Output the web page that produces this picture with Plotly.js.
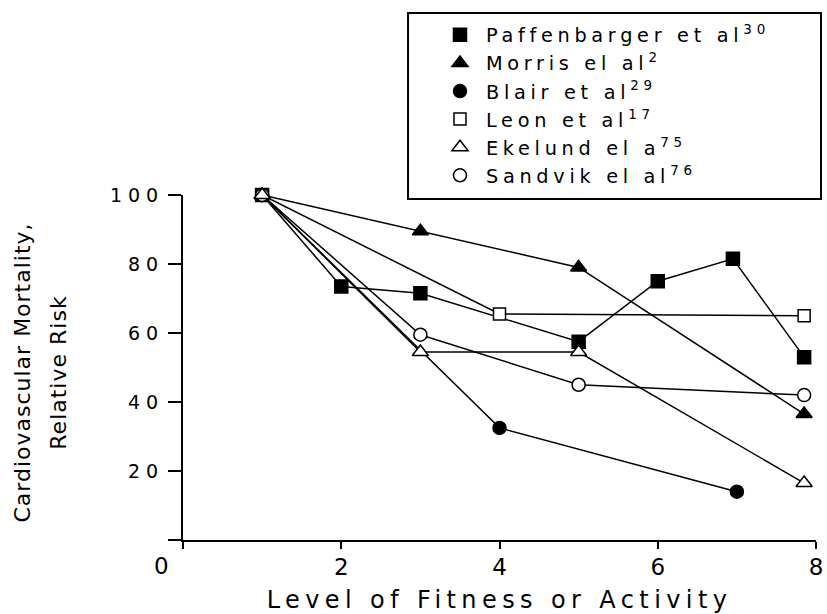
<!DOCTYPE html>
<html>
<head>
<meta charset="utf-8">
<script src="https://cdn.plot.ly/plotly-3.0.1.min.js"></script>
<style>
html, body { margin: 0; padding: 0; background: #ffffff; }
#chart { width: 827px; height: 614px; }
.legendtext { letter-spacing: 4.7px; }
.ytick text { letter-spacing: 6px; }
.xtitle { letter-spacing: 5.4px; }
.annotation-text { letter-spacing: 1px; }
</style>
</head>
<body>
<div id="chart"></div>
<script>
// ---- Data ----
var seriesNames = [
  "Paffenbarger et al<sup>30</sup>",
  "Morris el al<sup>2</sup>",
  "Blair et al<sup>29</sup>",
  "Leon et al<sup>17</sup>",
  "Ekelund el a<sup>75</sup>",
  "Sandvik el al<sup>76</sup>"
];

var paffenbargerX = [1, 2, 3, 5, 6, 6.95, 7.85];
var paffenbargerY = [100, 73.5, 71.5, 57.5, 75, 81.5, 53];

var morrisX = [1, 3, 5, 7.85];
var morrisY = [100, 89.5, 79, 36.5];

var blairX = [1, 4, 7];
var blairY = [100, 32.5, 14];

var leonX = [1, 4, 7.85];
var leonY = [100, 65.5, 65];

var ekelundX = [1, 3, 5, 7.85];
var ekelundY = [100, 54.5, 54.5, 16.5];

var sandvikX = [1, 3, 5, 7.85];
var sandvikY = [100, 59.5, 45, 42];

var xTickVals = [0, 2, 4, 6, 8];
var xTickText = ["", "2", "4", "6", "8"];
var yTickVals = [0, 20, 40, 60, 80, 100];
var yTickText = ["", "20", "40", "60", "80", "100"];

var xTitle = "Level of Fitness or Activity";
var yTitleLine1 = "Cardiovascular Mortality,";
var yTitleLine2 = "Relative Risk";
var originLabel = "0";

// ---- Styling ----
var xs = [paffenbargerX, morrisX, blairX, leonX, ekelundX, sandvikX];
var ys = [paffenbargerY, morrisY, blairY, leonY, ekelundY, sandvikY];
var symbols = ["square", "triangle-up", "circle", "square", "triangle-up", "circle"];
var fills = ["#000000", "#000000", "#000000", "#ffffff", "#ffffff", "#ffffff"];
var sizes = [13, 14, 13, 12, 14, 13];
// draw order for markers (open triangle ends up on top at the shared start point)
var drawOrder = [0, 1, 2, 3, 5, 4];

var traces = [];
for (var i = 0; i < xs.length; i++) {
  traces.push({
    type: "scatter", mode: "lines", x: xs[i], y: ys[i],
    line: { color: "#000000", width: 1.5 },
    showlegend: false, hoverinfo: "skip", cliponaxis: false
  });
}
for (var k = 0; k < drawOrder.length; k++) {
  var j = drawOrder[k];
  traces.push({
    type: "scatter", mode: "markers", x: xs[j], y: ys[j], name: seriesNames[j],
    legendrank: j + 1,
    marker: { symbol: symbols[j], size: sizes[j], color: fills[j],
              line: { color: "#000000", width: 1.5 } },
    showlegend: true, hoverinfo: "skip", cliponaxis: false
  });
}

var layout = {
  width: 827, height: 614,
  margin: { l: 183, r: 11, t: 195, b: 74, autoexpand: false },
  paper_bgcolor: "#ffffff", plot_bgcolor: "#ffffff",
  font: { family: "DejaVu Sans", color: "#000000" },
  showlegend: true,
  legend: {
    x: 0.3965, y: 1.5194, xanchor: "left", yanchor: "top",
    bgcolor: "rgba(0,0,0,0)", borderwidth: 0,
    font: { family: "DejaVu Sans", size: 19.3, color: "#000000" },
    itemwidth: 42, tracegroupgap: 0, traceorder: "normal"
  },
  xaxis: {
    range: [0, 8], tickmode: "array", tickvals: xTickVals, ticktext: xTickText,
    ticks: "outside", ticklen: 7, tickwidth: 2, tickcolor: "#000000",
    showline: true, linewidth: 2, linecolor: "#000000",
    showgrid: false, zeroline: false, fixedrange: true,
    tickfont: { size: 23 }, ticklabelstandoff: -2,
    title: { text: xTitle, font: { size: 24 }, standoff: 14 }
  },
  yaxis: {
    range: [0, 100], tickmode: "array", tickvals: yTickVals, ticktext: yTickText,
    ticks: "outside", ticklen: 13, tickwidth: 2, tickcolor: "#000000",
    showline: true, linewidth: 2, linecolor: "#000000",
    showgrid: false, zeroline: false, fixedrange: true,
    tickfont: { size: 19 }, ticklabelstandoff: 0
  },
  shapes: [{
    type: "rect", xref: "paper", yref: "paper",
    x0: 0.3555, x1: 1.0079, y0: 0.9884, y1: 1.5275,
    line: { color: "#000000", width: 2 }, fillcolor: "rgba(0,0,0,0)"
  }],
  annotations: [
    { xref: "paper", yref: "paper", x: -0.2551, y: 0.484, text: yTitleLine1,
      textangle: -90, showarrow: false, xanchor: "center", yanchor: "middle",
      font: { size: 22 } },
    { xref: "paper", yref: "paper", x: -0.198, y: 0.484, text: yTitleLine2,
      textangle: -90, showarrow: false, xanchor: "center", yanchor: "middle",
      font: { size: 22 } },
    { xref: "paper", yref: "paper", x: -0.0332, y: -0.0754, text: originLabel,
      showarrow: false, xanchor: "center", yanchor: "middle",
      font: { size: 23 } }
  ]
};

Plotly.newPlot("chart", traces, layout, { displayModeBar: false, staticPlot: true });
</script>
</body>
</html>
